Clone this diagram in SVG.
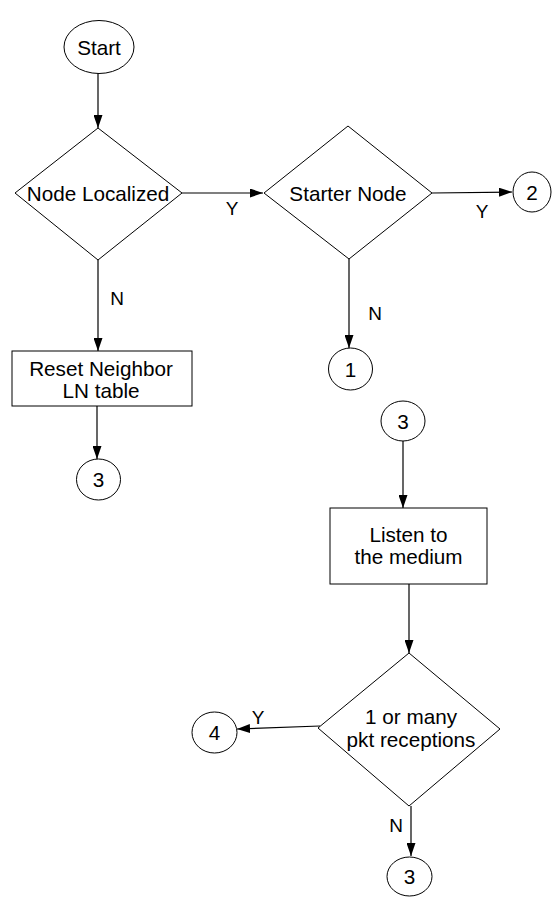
<svg xmlns="http://www.w3.org/2000/svg" width="552" height="897" viewBox="0 0 552 897">
<defs>
<marker id="ah" viewBox="0 0 13 9" refX="13" refY="4.5" markerWidth="13" markerHeight="9" markerUnits="userSpaceOnUse" orient="auto">
<path d="M0,0 L13,4.5 L0,9 Z" fill="#000"/>
</marker>
</defs>
<style>
.s{fill:#fff;stroke:#000;stroke-width:1}
.t{font-family:"Liberation Sans",Arial,sans-serif;font-size:20.7px;fill:#000;text-anchor:middle}
.l{font-family:"Liberation Sans",Arial,sans-serif;font-size:19px;fill:#000;text-anchor:middle}
.c{fill:none;stroke:#000;stroke-width:1.2;marker-end:url(#ah)}
</style>
<rect width="552" height="897" fill="#fff"/>
<g id="connectors">
<line class="c" x1="98" y1="73" x2="98" y2="128"/>
<line class="c" x1="182" y1="193" x2="263" y2="193"/>
<line class="c" x1="432" y1="193" x2="512" y2="192"/>
<line class="c" x1="349" y1="259" x2="349" y2="348"/>
<line class="c" x1="98" y1="260" x2="98" y2="351"/>
<line class="c" x1="97" y1="406" x2="97" y2="459"/>
<line class="c" x1="403" y1="441" x2="403" y2="508"/>
<line class="c" x1="409" y1="584" x2="409" y2="653"/>
<line class="c" x1="320" y1="726" x2="237" y2="729"/>
<line class="c" x1="411" y1="806" x2="411" y2="856"/>
<text class="l" x="232" y="215">Y</text>
<text class="l" x="482" y="218">Y</text>
<text class="l" x="375" y="320">N</text>
<text class="l" x="117" y="305">N</text>
<text class="l" x="258" y="724">Y</text>
<text class="l" x="396" y="832">N</text>
</g>
<g id="start">
<ellipse class="s" cx="99" cy="47" rx="35" ry="26.5"/>
<text class="t" x="99" y="54.5">Start</text>
</g>
<g id="node-localized">
<polygon class="s" points="98,128 182,193 98,260 15,193"/>
<text class="t" x="98" y="200.5">Node Localized</text>
</g>
<g id="starter-node">
<polygon class="s" points="348,126 432,193 349,259 264,193"/>
<text class="t" x="348" y="200.5">Starter Node</text>
</g>
<g id="c2">
<ellipse class="s" cx="532" cy="192" rx="19" ry="20"/>
<text class="t" x="532" y="199.5">2</text>
</g>
<g id="c1">
<ellipse class="s" cx="350.5" cy="369" rx="22" ry="21"/>
<text class="t" x="350.5" y="376.5">1</text>
</g>
<g id="reset">
<rect class="s" x="12" y="351" width="180" height="55"/>
<text class="t" x="101" y="376">Reset Neighbor</text>
<text class="t" x="101" y="398">LN table</text>
</g>
<g id="c3a">
<ellipse class="s" cx="98.5" cy="479.5" rx="22" ry="20.5"/>
<text class="t" x="98.5" y="487">3</text>
</g>
<g id="c3b">
<ellipse class="s" cx="403" cy="421" rx="22" ry="20"/>
<text class="t" x="403" y="428.5">3</text>
</g>
<g id="listen">
<rect class="s" x="330" y="508" width="157" height="76"/>
<text class="t" x="408.5" y="542">Listen to</text>
<text class="t" x="408.5" y="564">the medium</text>
</g>
<g id="pkt">
<polygon class="s" points="409,653 500,729 409,806 318,728"/>
<text class="t" x="411" y="724">1 or many</text>
<text class="t" x="411" y="747">pkt receptions</text>
</g>
<g id="c4">
<ellipse class="s" cx="214.5" cy="732.5" rx="22.5" ry="20.5"/>
<text class="t" x="214.5" y="740">4</text>
</g>
<g id="c3c">
<ellipse class="s" cx="409.5" cy="876.5" rx="22.5" ry="19.5"/>
<text class="t" x="409.5" y="884">3</text>
</g>
</svg>
